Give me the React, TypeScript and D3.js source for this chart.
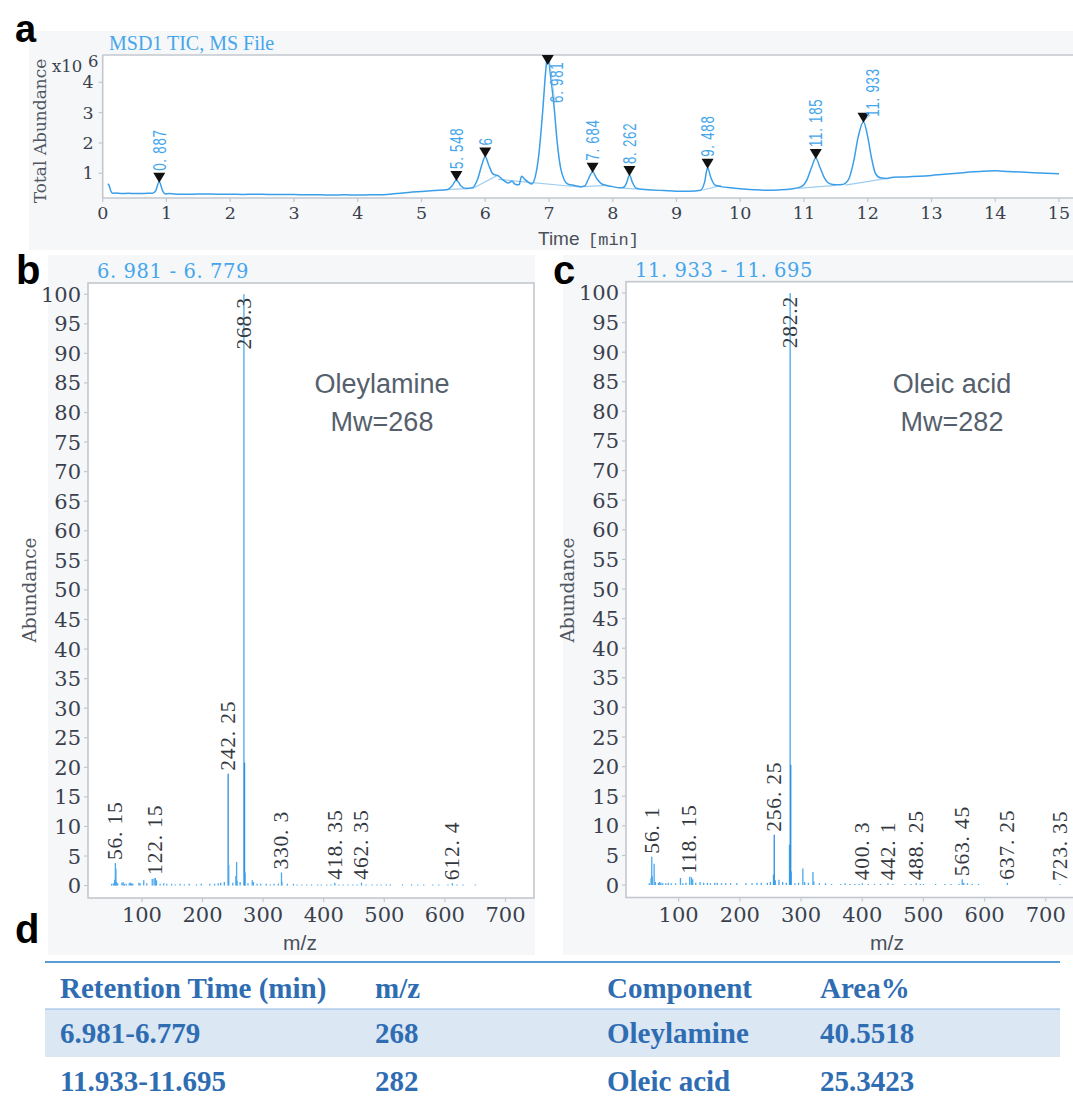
import React from 'react';
import * as d3 from 'd3';

const W = 1073;
const H = 1098;

// ---------- Panel a: total ion chromatogram ----------
const TIC_TIME = [
  0.08, 0.1, 0.13, 0.16, 0.2, 0.3, 0.4, 0.5, 0.6, 0.7, 0.78, 0.83, 0.887, 0.94, 0.98,
  1.05, 1.2, 1.4, 1.6, 1.8, 2.0, 2.2, 2.4, 2.6, 2.8, 3.0, 3.2, 3.4, 3.6, 3.8, 4.0, 4.2, 4.4,
  4.6, 4.8, 5.0, 5.2, 5.4, 5.48, 5.548, 5.62, 5.7, 5.8, 5.88, 5.95, 6.0, 6.05, 6.12, 6.2,
  6.28, 6.36, 6.42, 6.47, 6.53, 6.57, 6.62, 6.68, 6.73, 6.78, 6.84, 6.9, 6.95, 6.981, 7.02,
  7.08, 7.13, 7.18, 7.24, 7.3, 7.4, 7.5, 7.56, 7.62, 7.684, 7.75, 7.82, 7.9, 8.0, 8.1, 8.18,
  8.22, 8.262, 8.31, 8.36, 8.45, 8.6, 8.8, 9.0, 9.2, 9.38, 9.44, 9.488, 9.54, 9.6, 9.7, 9.85,
  10.0, 10.2, 10.4, 10.6, 10.8, 10.95, 11.05, 11.12, 11.185, 11.25, 11.32, 11.4, 11.5, 11.6,
  11.7, 11.78, 11.85, 11.933, 12.0, 12.06, 12.12, 12.2, 12.3, 12.4, 12.6, 12.8, 13.0, 13.2,
  13.4, 13.6, 13.8, 14.0, 14.2, 14.4, 14.6, 14.8, 15.0,
];
const TIC_VALUE = [
  0.65, 0.6, 0.4, 0.34, 0.35, 0.33, 0.34, 0.33, 0.33, 0.34, 0.34, 0.42, 0.72, 0.42, 0.32,
  0.33, 0.31, 0.31, 0.32, 0.31, 0.31, 0.3, 0.31, 0.3, 0.3, 0.3, 0.29, 0.29, 0.28, 0.29, 0.28, 0.29, 0.29,
  0.33, 0.37, 0.4, 0.43, 0.46, 0.58, 0.78, 0.58, 0.5, 0.52, 0.8, 1.3, 1.55, 1.3, 0.98, 0.92,
  0.78, 0.68, 0.74, 0.64, 0.62, 0.9, 0.8, 0.7, 0.65, 0.85, 1.6, 3.0, 4.4, 4.95, 4.3,
  3.2, 2.0, 1.2, 0.78, 0.64, 0.6, 0.56, 0.58, 0.82, 1.05, 0.82, 0.66, 0.6, 0.56, 0.52, 0.55,
  0.7, 0.94, 0.7, 0.52, 0.47, 0.45, 0.43, 0.41, 0.41, 0.44, 0.7, 1.18, 0.85, 0.62, 0.56, 0.52,
  0.49, 0.46, 0.44, 0.45, 0.48, 0.55, 0.8, 1.2, 1.5, 1.2, 0.85, 0.66, 0.62, 0.63,
  0.8, 1.4, 2.2, 2.7, 2.2, 1.5, 1.0, 0.85, 0.83, 0.87, 0.88, 0.9, 0.93, 0.97,
  1.0, 1.04, 1.07, 1.08, 1.06, 1.04, 1.02, 1.0, 0.98,
];
const TIC_X_TICKS = [0, 1, 2, 3, 4, 5, 6, 7, 8, 9, 10, 11, 12, 13, 14, 15];
const TIC_Y_TICKS = [1, 2, 3, 4];
const TIC_PEAK_TIMES = [0.887, 5.548, 6.0, 6.981, 7.684, 8.262, 9.488, 11.185, 11.933];
const TIC_PEAK_LABELS = ['0. 887', '5. 548', '6', '6. 981', '7. 684', '8. 262', '9. 488', '11. 185', '11. 933'];
// peaks whose label is set beside the marker with a leader line
const TIC_SIDE_LABELS = ['6. 981', '11. 933'];
// integration baselines [t0, v0, t1, v1]
const TIC_BASELINES = [
  [5.4, 0.46, 5.75, 0.5],
  [5.8, 0.5, 6.2, 0.94],
  [6.2, 0.8, 7.52, 0.54],
  [7.55, 0.56, 7.9, 0.6],
  [8.15, 0.51, 8.4, 0.48],
  [9.42, 0.45, 9.7, 0.6],
  [10.9, 0.5, 11.5, 0.6],
  [11.65, 0.61, 12.3, 0.83],
];

// ---------- Panel b: mass spectrum 6.981 - 6.779 ----------
const MS_B_MZ = [
  50, 53, 55, 56.15, 57.1, 58, 60, 67, 69, 71, 74, 79, 81, 83, 85, 95, 97, 103, 108, 117, 120, 122.15,
  124, 130, 136, 141, 149, 155, 163, 170, 178, 190, 198, 212, 220, 226, 230, 236, 242.25, 243.25,
  250, 255, 256.25, 257, 262, 268.3, 269.3, 270.3, 275, 282, 284, 290, 296, 305, 312, 318, 325,
  330.3, 331, 340, 350, 356, 364, 372, 380, 390, 396, 405, 412, 418.35, 425, 432, 440, 448, 455,
  462.35, 470, 480, 488, 495, 503, 510, 530, 545, 555, 565, 580, 590, 605, 612.4, 620, 630, 650,
];
const MS_B_AB = [
  0.3, 0.4, 1.0, 3.8, 2.9, 0.6, 0.4, 0.5, 0.6, 0.3, 0.3, 0.4, 0.5, 0.4, 0.3, 0.5, 0.4, 0.9, 0.4, 1.1, 1.2, 1.3,
  0.9, 0.3, 0.4, 0.3, 0.3, 0.2, 0.3, 0.2, 0.3, 0.2, 0.3, 0.3, 0.3, 0.4, 0.5, 0.6, 18.9, 3.5,
  0.5, 1.6, 4.0, 0.8, 0.6, 100, 20.8, 2.2, 0.4, 0.9, 0.6, 0.3, 0.3, 0.3, 0.2, 0.3, 0.3,
  2.2, 0.6, 0.3, 0.3, 0.2, 0.2, 0.2, 0.2, 0.2, 0.2, 0.2, 0.2, 0.5, 0.2, 0.2, 0.2, 0.2, 0.2,
  0.5, 0.2, 0.2, 0.2, 0.2, 0.2, 0.2, 0.2, 0.2, 0.2, 0.2, 0.2, 0.2, 0.2, 0.4, 0.2, 0.2, 0.2,
];
const MS_B_LABEL_MZ = [56.15, 122.15, 242.25, 268.3, 330.3, 418.35, 462.35, 612.4];
const MS_B_LABELS = ['56. 15', '122. 15', '242. 25', '268.3', '330. 3', '418. 35', '462. 35', '612. 4'];

// ---------- Panel c: mass spectrum 11.933 - 11.695 ----------
const MS_C_MZ = [
  52, 55, 56.1, 57, 60, 62, 67, 69, 71, 74, 79, 83, 88, 95, 103, 107, 112, 118.15, 121, 123, 128, 135,
  141, 147, 152, 159, 163, 170, 177, 185, 195, 210, 220, 228, 235, 245, 250, 255, 256.25, 258, 264,
  270, 276, 281.2, 282.2, 283.2, 284.2, 290, 296, 303, 306, 312, 319.5, 321, 330, 340, 350, 365, 372,
  380, 388, 395, 400.3, 410, 420, 430, 442.1, 450, 470, 480, 488.25, 495, 500, 520, 535, 545, 558,
  563.45, 566, 572, 580, 590, 637.25, 723.35,
];
const MS_C_AB = [
  0.3, 1.2, 4.8, 1.5, 3.6, 0.5, 0.4, 0.5, 0.4, 0.3, 0.3, 0.4, 0.3, 0.3, 1.2, 0.3, 0.4, 1.4, 1.3, 1.0, 0.4, 0.5,
  0.4, 0.4, 0.3, 0.4, 0.4, 0.3, 0.3, 0.3, 0.3, 0.3, 0.3, 0.4, 0.4, 0.4, 0.5, 1.8, 8.5, 0.8, 0.9,
  0.5, 0.4, 6.8, 100, 20.3, 2.3, 0.3, 0.4, 2.8, 0.5, 0.4, 2.2, 0.6, 0.3, 0.3, 0.2, 0.2, 0.3,
  0.2, 0.2, 0.2, 0.3, 0.2, 0.2, 0.2, 0.3, 0.2, 0.2, 0.2, 0.3, 0.2, 0.2, 0.2, 0.2, 0.2, 0.2,
  1.0, 0.4, 0.3, 0.2, 0.2, 0.4, 0.2,
];
const MS_C_LABEL_MZ = [56.1, 118.15, 256.25, 282.2, 400.3, 442.1, 488.25, 563.45, 637.25, 723.35];
const MS_C_LABELS = ['56. 1', '118. 15', '256. 25', '282.2', '400. 3', '442. 1', '488. 25', '563. 45', '637. 25', '723. 35'];

const MS_X_TICKS = [100, 200, 300, 400, 500, 600, 700];
const MS_Y_TICKS = [0, 5, 10, 15, 20, 25, 30, 35, 40, 45, 50, 55, 60, 65, 70, 75, 80, 85, 90, 95, 100];

// ---------- Panel d: table ----------
const TABLE_HEADERS = ['Retention Time (min)', 'm/z', 'Component', 'Area%'];
const TABLE_ROW_1 = ['6.981-6.779', '268', 'Oleylamine', '40.5518'];
const TABLE_ROW_2 = ['11.933-11.695', '282', 'Oleic acid', '25.3423'];

const BLUE = '#3a9fe8';
const BLUE_TXT = '#45a6ec';
const FRAME = '#c3c7ce';
const TICK_TXT = '#3a414d';
const SERIF = '"DejaVu Serif", serif';
const LSERIF = '"Liberation Serif", "Times New Roman", serif';
const SANS = '"Liberation Sans", Arial, sans-serif';

function TicPanel() {
  const x = d3.scaleLinear().domain([0, 15]).range([102.7, 1059]);
  const y = d3.scaleLinear().domain([0.185, 4.9]).range([198, 55]);
  const pts = TIC_TIME.map((t, i) => [t, TIC_VALUE[i]] as [number, number]);
  const line = d3
    .line<[number, number]>()
    .x((d) => x(d[0]))
    .y((d) => y(d[1]))
    .curve(d3.curveMonotoneX);
  const [x0] = x.range();
  const [yb, yt] = y.range();
  return (
    <g>
      <rect x={29} y={31} width={W - 29} height={219} fill="#f6f7f9" />
      <rect x={x0} y={yt} width={W - x0} height={yb - yt} fill="#ffffff" />
      <defs>
        <clipPath id="ticclip">
          <rect x={x0} y={yt} width={W - x0} height={yb - yt} />
        </clipPath>
      </defs>
      <line x1={x0} x2={W} y1={yt} y2={yt} stroke={FRAME} strokeWidth={1.6} />
      <line x1={x0} x2={x0} y1={yt} y2={yb} stroke={FRAME} strokeWidth={1.6} />
      <line x1={x0} x2={W} y1={yb} y2={yb} stroke={FRAME} strokeWidth={1.6} />
      {TIC_X_TICKS.map((t) => (
        <g key={'xt' + t}>
          <line x1={x(t)} x2={x(t)} y1={yb} y2={yb + 4} stroke={FRAME} strokeWidth={1.2} />
          <text x={x(t)} y={yb + 21} textAnchor="middle" fontFamily={SERIF} fontSize={17.5} fill={TICK_TXT}>
            {t}
          </text>
        </g>
      ))}
      {TIC_Y_TICKS.map((v) => (
        <g key={'yt' + v}>
          <line x1={x0 - 4} x2={x0} y1={y(v)} y2={y(v)} stroke={FRAME} strokeWidth={1.2} />
          <text x={x0 - 9} y={y(v) + 6} textAnchor="end" fontFamily={SERIF} fontSize={17.5} fill={TICK_TXT}>
            {v}
          </text>
        </g>
      ))}
      <text x={52} y={72} fontFamily={SERIF} fontSize={16.5} fill={TICK_TXT}>x10</text>
      <text x={88} y={67} fontFamily={SERIF} fontSize={16.5} fill={TICK_TXT}>6</text>
      <text
        transform={`translate(46,131) rotate(-90)`}
        textAnchor="middle"
        fontFamily={SERIF}
        fontSize={17}
        fill="#4f5660"
      >
        Total Abundance
      </text>
      <text x={109} y={50} fontFamily={LSERIF} fontSize={20} fill={BLUE_TXT}>
        MSD1 TIC, MS File
      </text>
      <text x={538} y={245} fontFamily={SANS} fontSize={19} fill="#4b5059">Time</text>
      <text x={588} y={245} fontFamily='"Liberation Mono", monospace' fontSize={17} fill="#4b5059">[min]</text>
      <g clipPath="url(#ticclip)">
        {TIC_BASELINES.map((s, i) => (
          <line key={'bl' + i} x1={x(s[0])} y1={y(s[1])} x2={x(s[2])} y2={y(s[3])} stroke="#9fcdf0" strokeWidth={1.2} />
        ))}
        <path d={line(pts) || ''} fill="none" stroke={BLUE} strokeWidth={1.5} />
      </g>
      {TIC_PEAK_TIMES.map((t, i) => {
        const idx = TIC_TIME.indexOf(t);
        const v = TIC_VALUE[idx];
        const px = x(t);
        const tip = Math.max(y(v) + 1, yt + 10);
        const side = TIC_SIDE_LABELS.includes(TIC_PEAK_LABELS[i]);
        const tri = `M${px - 6},${tip - 10}L${px + 6},${tip - 10}L${px},${tip}Z`;
        const lx = side ? px + 9 : px;
        const ly = side ? tip + (t < 10 ? 38 : -6) : tip - 12;
        return (
          <g key={'pk' + t}>
            {side && <line x1={px + 2} y1={tip - 3} x2={lx - 2} y2={ly - 2} stroke="#9fcdf0" strokeWidth={1} />}
            <path d={tri} fill="#111" />
            <text
              transform={`translate(${lx},${ly}) rotate(-90) scale(0.74,1)`}
              dy="0.36em"
              fontFamily={SANS}
              fontSize={18}
              letterSpacing={1}
              fill={BLUE_TXT}
            >
              {TIC_PEAK_LABELS[i]}
            </text>
          </g>
        );
      })}
      <text x={15} y={42} fontFamily={SANS} fontWeight="bold" fontSize={38} fill="#000">a</text>
    </g>
  );
}

function MsPanel(props: {
  mz: number[];
  ab: number[];
  labelMz: number[];
  labels: string[];
  xDomain: [number, number];
  xRange: [number, number];
  yRange: [number, number];
  bg: [number, number];
  title: string;
  letter: string;
  letterX: number;
  compound: string;
  mw: string;
  compoundX: number;
  mzLabelX: number;
  clipId: string;
}) {
  const x = d3.scaleLinear().domain(props.xDomain).range(props.xRange);
  const y = d3.scaleLinear().domain([-2.1, 101.9]).range(props.yRange);
  const [x0, x1] = props.xRange;
  const [yb, yt] = props.yRange;
  const right = Math.min(x1, W + 2);
  return (
    <g>
      <rect x={props.bg[0]} y={255} width={props.bg[1] - props.bg[0]} height={700} fill="#f6f7f9" />
      <rect x={x0} y={yt} width={right - x0} height={yb - yt} fill="#ffffff" />
      <rect x={x0} y={yt} width={right - x0} height={yb - yt} fill="none" stroke={FRAME} strokeWidth={1.6} />
      <defs>
        <clipPath id={props.clipId}>
          <rect x={x0} y={yt} width={right - x0} height={yb - yt} />
        </clipPath>
      </defs>
      {MS_Y_TICKS.map((v) => (
        <g key={'y' + v}>
          <line x1={x0 - 4} x2={x0} y1={y(v)} y2={y(v)} stroke={FRAME} strokeWidth={1.2} />
          <text x={x0 - 7} y={y(v) + 7.5} textAnchor="end" fontFamily={SERIF} fontSize={21} fill={TICK_TXT}>
            {v}
          </text>
        </g>
      ))}
      {MS_X_TICKS.map((v) => (
        <g key={'x' + v}>
          <line x1={x(v)} x2={x(v)} y1={yb} y2={yb + 4} stroke={FRAME} strokeWidth={1.2} />
          <text x={x(v)} y={yb + 24} textAnchor="middle" fontFamily={SERIF} fontSize={21} fill={TICK_TXT}>
            {v}
          </text>
        </g>
      ))}
      <g clipPath={`url(#${props.clipId})`}>
        {props.mz.map((m, i) => (
          <line
            key={'b' + i}
            x1={x(m)}
            x2={x(m)}
            y1={y(0)}
            y2={y(props.ab[i])}
            stroke={props.ab[i] > 5 && props.ab[i] < 50 ? '#2a8ee0' : '#4aa8ee'}
            strokeWidth={1.3}
          />
        ))}
      </g>
      {props.labelMz.map((m, i) => {
        const idx = props.mz.indexOf(m);
        const v = props.ab[idx];
        const top = v >= 100;
        const ly = top ? y(v) + 3 : y(v) - 3;
        return (
          <text
            key={'l' + i}
            transform={`translate(${x(m) - 1},${ly}) rotate(-90)`}
            dy="0.36em"
            textAnchor={top ? 'end' : 'start'}
            fontFamily={LSERIF}
            fontSize={21.5}
            letterSpacing={0.8}
            fill="#33383f"
          >
            {props.labels[i]}
          </text>
        );
      })}
      <text x={x0 + 9} y={yt - 5} fontFamily={SERIF} fontSize={19.5} letterSpacing={0.6} fill={BLUE_TXT}>
        {props.title}
      </text>
      <text
        transform={`translate(${x0 - 52},590) rotate(-90)`}
        textAnchor="middle"
        fontFamily={SERIF}
        fontSize={18.5}
        fill="#4f5660"
      >
        Abundance
      </text>
      <text x={props.mzLabelX} y={950} textAnchor="middle" fontFamily={SANS} fontSize={21} fill="#4b5059">
        m/z
      </text>
      <text x={props.compoundX} y={393} textAnchor="middle" fontFamily={SANS} fontSize={27} fill="#56606c">
        {props.compound}
      </text>
      <text x={props.compoundX} y={431} textAnchor="middle" fontFamily={SANS} fontSize={27} fill="#56606c">
        {props.mw}
      </text>
      <text x={props.letterX} y={284} fontFamily={SANS} fontWeight="bold" fontSize={40} fill="#000">
        {props.letter}
      </text>
    </g>
  );
}

function TablePanel() {
  const cols = [60, 375, 607, 820];
  const left = 45;
  const right = 1060;
  const rowBase = [998, 1043, 1091];
  const rows = [TABLE_HEADERS, TABLE_ROW_1, TABLE_ROW_2];
  return (
    <g>
      <text x={15} y={943} fontFamily={SANS} fontWeight="bold" fontSize={40} fill="#000">d</text>
      <rect x={left} y={1009} width={right - left} height={48} fill="#dce7f4" />
      <line x1={left} x2={right} y1={962} y2={962} stroke="#5b9bd5" strokeWidth={2} />
      <line x1={left} x2={right} y1={1009} y2={1009} stroke="#8cb8e2" strokeWidth={1.2} />
      {rows.map((r, ri) => (
        <g key={'r' + ri}>
          {r.map((c, ci) => (
            <text
              key={'c' + ci}
              x={cols[ci]}
              y={rowBase[ri]}
              fontFamily={LSERIF}
              fontWeight="bold"
              fontSize={29}
              fill="#2f6db3"
            >
              {c}
            </text>
          ))}
        </g>
      ))}
    </g>
  );
}

export default function App() {
  return (
    <svg
      width={W}
      height={H}
      viewBox={`0 0 ${W} ${H}`}
      style={{ position: 'absolute', left: 0, top: 0, display: 'block', background: '#ffffff' }}
    >
      <rect x={0} y={0} width={W} height={H} fill="#ffffff" />
      <TicPanel />
      <MsPanel
        mz={MS_B_MZ}
        ab={MS_B_AB}
        labelMz={MS_B_LABEL_MZ}
        labels={MS_B_LABELS}
        xDomain={[11, 747]}
        xRange={[88, 534]}
        yRange={[898, 283]}
        bg={[48, 535]}
        title="6. 981 - 6. 779"
        letter="b"
        letterX={16}
        compound="Oleylamine"
        mw="Mw=268"
        compoundX={382}
        mzLabelX={300}
        clipId="clipb"
      />
      <MsPanel
        mz={MS_C_MZ}
        ab={MS_C_AB}
        labelMz={MS_C_LABEL_MZ}
        labels={MS_C_LABELS}
        xDomain={[14, 760]}
        xRange={[626, 1082.5]}
        yRange={[897.5, 281.7]}
        bg={[563, 1073]}
        title="11. 933 - 11. 695"
        letter="c"
        letterX={553}
        compound="Oleic acid"
        mw="Mw=282"
        compoundX={952}
        mzLabelX={887}
        clipId="clipc"
      />
      <TablePanel />
    </svg>
  );
}
